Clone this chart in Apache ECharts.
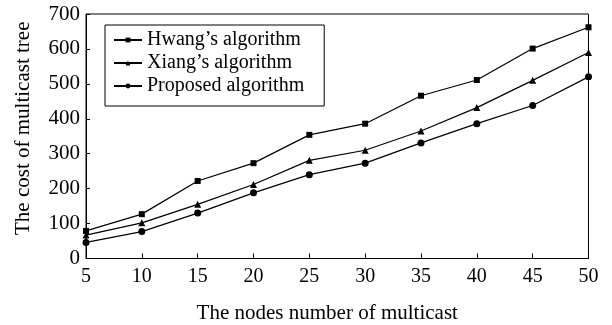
<!DOCTYPE html>
<html>
<head>
<meta charset="utf-8">
<script src="https://cdn.jsdelivr.net/npm/echarts@6/dist/echarts.min.js"></script>
<style>
html,body{margin:0;padding:0;background:#fff;}
#chart{width:612px;height:325px;}
</style>
</head>
<body>
<div id="chart"></div>
<script>
const nodes = [5, 10, 15, 20, 25, 30, 35, 40, 45, 50];
const hwang = [79, 127, 222, 273, 354, 386, 466, 511, 601, 662];
const xiang = [67, 102, 155, 212, 281, 310, 365, 432, 510, 590];
const proposed = [46, 77, 130, 188, 240, 273, 331, 386, 438, 520];
const seriesNames = ["Hwang\u2019s algorithm", "Xiang\u2019s algorithm", "Proposed algorithm"];
const xTitle = "The nodes number of multicast";
const yTitle = "The cost of multicast tree";

const font = "Liberation Serif";
const chart = echarts.init(document.getElementById('chart'));
function pairs(v){ return nodes.map((n,i)=>[n, v[i]]); }
function mkSeries(name, data, symbol, size){
  return {
    name: name, type: 'line', data: pairs(data), symbol: symbol, symbolSize: size,
    lineStyle: {color: '#000', width: 1.2},
    itemStyle: {color: '#000'},
    animation: false
  };
}
chart.setOption({
  backgroundColor: '#fff',
  animation: false,
  grid: {left: 86, right: 23.5, top: 14, bottom: 66.5, show: true, borderColor: '#000', borderWidth: 1,
         outerBoundsMode: 'none', containLabel: false},
  legend: {
    orient: 'vertical', left: 105, top: 25,
    padding: [5, 20, 10, 8],
    itemGap: 3, itemWidth: 28, itemHeight: 6,
    borderColor: '#000', borderWidth: 1, backgroundColor: '#fff',
    textStyle: {fontFamily: font, fontSize: 20, color: '#000'},
    data: seriesNames
  },
  xAxis: {
    type: 'value', min: 5, max: 50, interval: 5,
    name: xTitle, nameLocation: 'middle', nameGap: 44,
    nameTextStyle: {fontFamily: font, fontSize: 21, color: '#000', padding: [0, 20, 0, 0]},
    axisLine: {lineStyle: {color: '#000', width: 1}},
    axisTick: {inside: true, length: 5, lineStyle: {color: '#000'}},
    axisLabel: {fontFamily: font, fontSize: 20, color: '#000', margin: 8},
    splitLine: {show: false}
  },
  yAxis: {
    type: 'value', min: 0, max: 700, interval: 100,
    name: yTitle, nameLocation: 'middle', nameGap: 52,
    nameTextStyle: {fontFamily: font, fontSize: 21, color: '#000', padding: [0, 0, 0, 16]},
    axisLine: {show: true, lineStyle: {color: '#000', width: 1}},
    axisTick: {show: true, inside: true, length: 4, lineStyle: {color: '#000'}},
    axisLabel: {fontFamily: font, fontSize: 21, color: '#000', margin: 6},
    splitLine: {show: false}
  },
  series: [
    mkSeries(seriesNames[0], hwang, 'rect', 6),
    mkSeries(seriesNames[1], xiang, 'triangle', 7),
    mkSeries(seriesNames[2], proposed, 'circle', 7)
  ]
});
</script>
</body>
</html>
